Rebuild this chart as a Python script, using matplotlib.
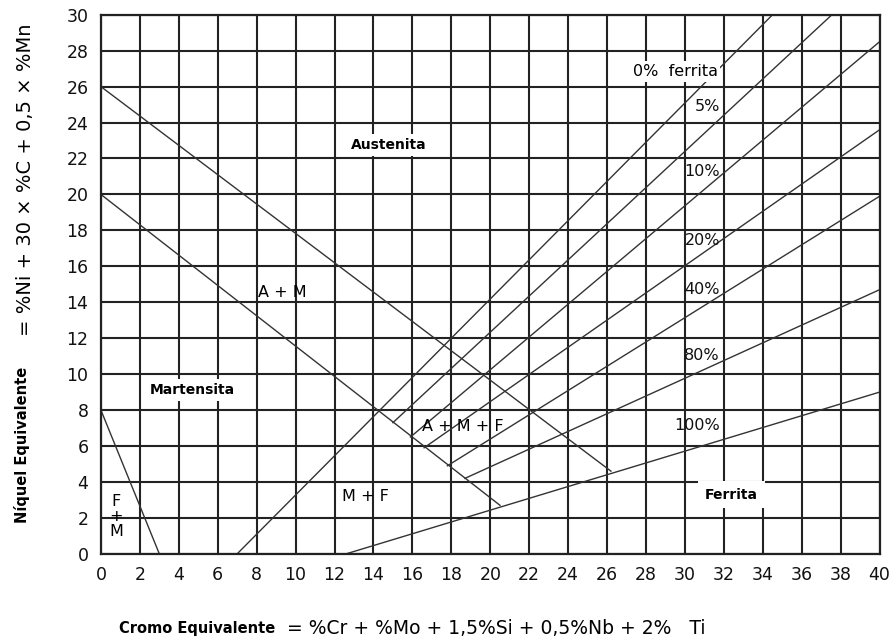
"""
Schaeffler diagram (Cr_eq vs Ni_eq) with phase regions and ferrite iso-lines.
"""
import numpy as np
import matplotlib.pyplot as plt

# Phase boundaries: (Cr_eq, Ni_eq) end points
austenite_cr = [0.0, 26.2]
austenite_ni = [26.0, 4.6]
martensite_cr = [0.0, 20.5]
martensite_ni = [20.0, 2.7]
fm_cr = [0.0, 3.0]
fm_ni = [8.0, 0.0]

# Ferrite iso-lines: start and end points
ferrite_labels = ["0%  ferrita", "5%", "10%", "20%", "40%", "80%", "100%"]
ferrite_cr_start = [7.0, 15.0, 15.9, 16.6, 17.8, 18.7, 12.6]
ferrite_ni_start = [0.0, 7.3, 6.5, 5.9, 4.9, 4.2, 0.0]
ferrite_cr_end = [34.5, 37.55, 40.0, 40.0, 40.0, 40.0, 40.0]
ferrite_ni_end = [30.0, 30.0, 28.5, 23.6, 19.9, 14.7, 9.0]

x_ticks = list(range(0, 41, 2))
y_ticks = list(range(0, 31, 2))

fig = plt.figure(figsize=(8.93, 6.41), dpi=100)
ax = fig.add_axes([0.113, 0.136, 0.872, 0.841])

ink = "#222222"
ax.set_xlim(0, 40)
ax.set_ylim(0, 30)
ax.set_xticks(x_ticks)
ax.set_yticks(y_ticks)
ax.tick_params(length=0, labelsize=12.5, pad=9, colors="#111111")
ax.grid(True, color=ink, lw=1.5)
ax.set_axisbelow(True)
for sp in ax.spines.values():
    sp.set_color(ink)
    sp.set_linewidth(1.6)

line_kw = dict(color="#333333", lw=1.0)
ax.plot(austenite_cr, austenite_ni, **line_kw)
ax.plot(martensite_cr, martensite_ni, **line_kw)
ax.plot(fm_cr, fm_ni, **line_kw)
for xs, ys, xe, ye in zip(ferrite_cr_start, ferrite_ni_start, ferrite_cr_end, ferrite_ni_end):
    ax.plot([xs, xe], [ys, ye], **line_kw)

# ferrite percentage labels
box = dict(facecolor="white", edgecolor="none", pad=2)
ax.text(29.5, 26.85, ferrite_labels[0], ha="center", va="center", fontsize=11.5, bbox=box)
label_y = [24.9, 21.25, 17.45, 14.7, 11.05, 7.15]
for lab, yy in zip(ferrite_labels[1:], label_y):
    ax.text(31.8, yy, lab, ha="right", va="center", fontsize=11.5, color="#111111")

# region labels
bold_box = dict(facecolor="white", edgecolor="none", pad=3)
ax.text(14.8, 22.75, "Austenita", ha="center", va="center", fontsize=10,
        fontweight="bold", bbox=bold_box)
ax.text(4.7, 9.1, "Martensita", ha="center", va="center", fontsize=10,
        fontweight="bold", bbox=bold_box)
ax.text(32.4, 3.3, "Ferrita", ha="center", va="center", fontsize=10,
        fontweight="bold", bbox=dict(facecolor="white", edgecolor="none", pad=5))
ax.text(9.3, 14.55, "A + M", ha="center", va="center", fontsize=11.5)
ax.text(18.6, 7.1, "A + M + F", ha="center", va="center", fontsize=11.5)
ax.text(13.6, 3.2, "M + F", ha="center", va="center", fontsize=11.5)
ax.text(0.8, 2.1, "F\n+\nM", ha="center", va="center", fontsize=11.5, linespacing=1.0)

# axis titles
fig.text(0.025, 0.306, "Níquel Equivalente", rotation=90, ha="center", va="center",
         fontsize=10.5, fontweight="bold")
fig.text(0.028, 0.72, "= %Ni + 30 × %C + 0,5 × %Mn", rotation=90, ha="center",
         va="center", fontsize=14)
fig.text(0.221, 0.02, "Cromo Equivalente", ha="center", va="center",
         fontsize=10.5, fontweight="bold")
fig.text(0.321, 0.02, "= %Cr + %Mo + 1,5%Si + 0,5%Nb + 2%   Ti", ha="left",
         va="center", fontsize=13.5)

fig.savefig("out.png", dpi=100)
